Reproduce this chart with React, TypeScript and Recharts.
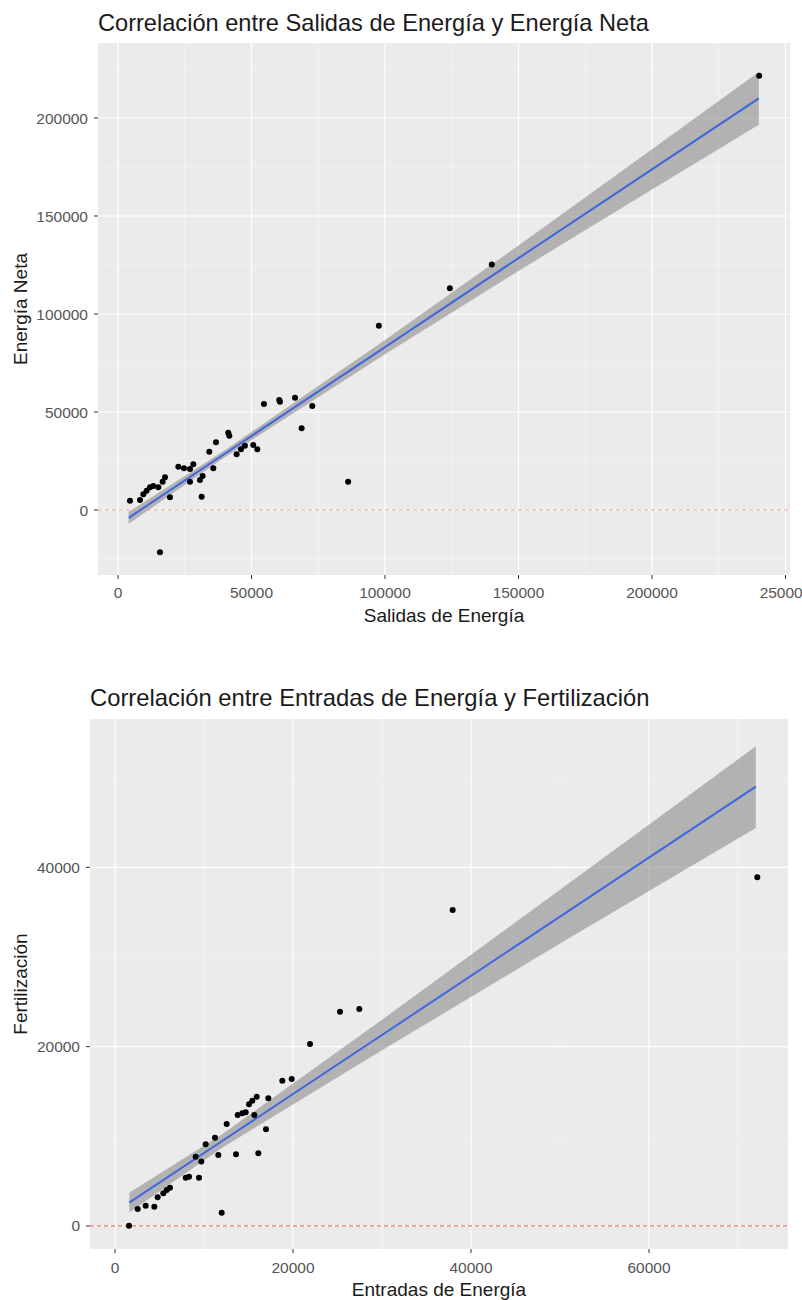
import React from 'react';
import { ComposedChart, Scatter, Line, Area, XAxis, YAxis, CartesianGrid, ReferenceLine } from 'recharts';

// --- top chart: Salidas de Energía vs Energía Neta ---
const salidas = [4490, 8240, 9490, 10730, 11980, 13230, 15100, 16720, 17600, 19470, 15720, 22590, 24710, 26960, 28200, 26960, 30700, 31700, 31330, 34200, 35700, 36700, 41300, 41700, 44430, 46050, 47550, 50670, 52170, 54660, 60400, 60650, 66300, 68770, 72760, 86200, 97700, 124300, 140000, 240150];
const neta = [4760, 5100, 7990, 9860, 11560, 12240, 11560, 14460, 16670, 6460, -21600, 22110, 21260, 20920, 23300, 14460, 15310, 17350, 6800, 29760, 21260, 34520, 39460, 37930, 28400, 30950, 32820, 33160, 30950, 54080, 56100, 55270, 57300, 41670, 53060, 14450, 94000, 113100, 125300, 221600];

const fitX1 = [4000, 40000, 100000, 150000, 200000, 240000];
const fitY1 = [-4000, 28700, 83100, 128500, 173800, 210000];
const fitLo1 = [-7000, 26900, 79500, 122000, 163500, 196500];
const fitHi1 = [-1000, 30500, 86700, 135000, 184000, 223500];

const xTicks1 = [0, 50000, 100000, 150000, 200000, 250000];
const xMinor1 = [25000, 75000, 125000, 175000, 225000];
const yTicks1 = [0, 50000, 100000, 150000, 200000];
const yMinor1 = [-25000, 25000, 75000, 125000, 175000, 225000];

// --- bottom chart: Entradas de Energía vs Fertilización ---
const entradas = [1573, 2547, 3445, 4419, 4794, 5430, 5805, 6180, 7940, 8314, 9437, 9063, 9700, 10186, 11235, 11610, 11984, 12546, 13594, 13782, 14306, 14680, 15055, 15429, 15916, 15654, 16104, 16965, 17227, 18800, 19850, 21910, 25280, 27450, 37940, 72170];
const fert = [37, 1896, 2268, 2156, 3197, 3644, 4015, 4276, 5391, 5503, 5391, 7733, 7200, 9109, 9853, 7919, 1487, 11377, 7994, 12381, 12567, 12678, 13571, 13980, 14426, 12381, 8105, 10782, 14240, 16210, 16400, 20300, 23907, 24204, 35250, 38890];

const fitX2 = [1600, 12000, 30000, 50000, 72000];
const fitY2 = [2600, 9450, 21300, 34500, 49000];
const fitLo2 = [1500, 8700, 19600, 31500, 44400];
const fitHi2 = [3700, 10200, 23000, 37500, 53500];

const xTicks2 = [0, 20000, 40000, 60000];
const xMinor2 = [10000, 30000, 50000, 70000];
const yTicks2 = [0, 20000, 40000];
const yMinor2 = [10000, 30000, 50000];

const points1 = salidas.map((x, i) => ({ x, y: neta[i] }));
const fit1 = fitX1.map((x, i) => ({ x, fit: fitY1[i], band: [fitLo1[i], fitHi1[i]] }));
const points2 = entradas.map((x, i) => ({ x, y: fert[i] }));
const fit2 = fitX2.map((x, i) => ({ x, fit: fitY2[i], band: [fitLo2[i], fitHi2[i]] }));

const FONT = '"Liberation Sans", Arial, sans-serif';
const tickStyle = { fill: '#555555', fontSize: 15.5, fontFamily: FONT };

const Dot = (props: any) => <circle cx={props.cx} cy={props.cy} r={3} fill="#000" />;

interface PanelProps {
  top: number;
  height: number;
  margin: any;
  points: any[];
  fit: any[];
  xDomain: number[];
  yDomain: number[];
  xTicks: number[];
  xMinor: number[];
  yTicks: number[];
  yMinor: number[];
  zeroColor: string;
  xTickMargin: number;
}

const Panel = (p: PanelProps) => (
  <div style={{ position: 'absolute', left: 0, top: p.top }}>
    <ComposedChart width={802} height={p.height} margin={p.margin}>
      <CartesianGrid fill="#EBEBEB" fillOpacity={1} stroke="#F7F7F7" strokeWidth={0.6}
        horizontalValues={p.yMinor} verticalValues={p.xMinor} />
      <CartesianGrid stroke="#FFFFFF" strokeWidth={1.2}
        horizontalValues={p.yTicks} verticalValues={p.xTicks} />
      <XAxis type="number" dataKey="x" domain={p.xDomain} allowDataOverflow ticks={p.xTicks}
        axisLine={false} tickLine={{ stroke: '#333' }} tickSize={4} tickMargin={p.xTickMargin}
        tick={tickStyle} height={40} interval={0} />
      <YAxis type="number" domain={p.yDomain} allowDataOverflow ticks={p.yTicks}
        axisLine={false} tickLine={{ stroke: '#333' }} tickSize={4} tickMargin={6}
        tick={tickStyle} width={80} interval={0} />
      <ReferenceLine y={0} stroke={p.zeroColor} strokeDasharray="4 3" strokeWidth={1.2} />
      <Scatter data={p.points} dataKey="y" shape={Dot} isAnimationActive={false} />
      <Area data={p.fit} dataKey="band" type="linear" stroke="none" fill="#8C8C8C" fillOpacity={0.6}
        isAnimationActive={false} />
      <Line data={p.fit} dataKey="fit" type="linear" stroke="#3F66E0" strokeWidth={2} dot={false}
        isAnimationActive={false} />
    </ComposedChart>
  </div>
);

const txt = (style: any, text: string) => (
  <div style={{ position: 'absolute', whiteSpace: 'nowrap', lineHeight: 1, fontFamily: FONT, ...style }}>{text}</div>
);

export default function App() {
  return (
    <div style={{ position: 'absolute', left: 0, top: 0, width: 802, height: 1300, background: '#fff', overflow: 'hidden' }}>
      <Panel top={0} height={640} margin={{ top: 43, right: 12, bottom: 25, left: 18 }}
        points={points1} fit={fit1} xDomain={[-7490, 251685]} yDomain={[-33163, 238265]}
        xTicks={xTicks1} xMinor={xMinor1} yTicks={yTicks1} yMinor={yMinor1}
        zeroColor="#F2A27E" xTickMargin={8} />
      <Panel top={660} height={640} margin={{ top: 59, right: 14, bottom: 11, left: 10 }}
        points={points2} fit={fit2} xDomain={[-2810, 75618]} yDomain={[-2570, 56550]}
        xTicks={xTicks2} xMinor={xMinor2} yTicks={yTicks2} yMinor={yMinor2}
        zeroColor="#E07A6E" xTickMargin={9} />

      {txt({ left: 98, top: 12, fontSize: 23.6, color: '#1A1A1A' }, 'Correlación entre Salidas de Energía y Energía Neta')}
      {txt({ left: 444, top: 606, fontSize: 19, color: '#1A1A1A', transform: 'translateX(-50%)' }, 'Salidas de Energía')}
      {txt({ left: 20, top: 309, fontSize: 19, color: '#1A1A1A', transform: 'translate(-50%, -50%) rotate(-90deg)' }, 'Energía Neta')}

      {txt({ left: 90, top: 686, fontSize: 23.8, color: '#1A1A1A' }, 'Correlación entre Entradas de Energía y Fertilización')}
      {txt({ left: 439, top: 1280, fontSize: 19, color: '#1A1A1A', transform: 'translateX(-50%)' }, 'Entradas de Energía')}
      {txt({ left: 20, top: 984, fontSize: 19, color: '#1A1A1A', transform: 'translate(-50%, -50%) rotate(-90deg)' }, 'Fertilización')}
    </div>
  );
}
